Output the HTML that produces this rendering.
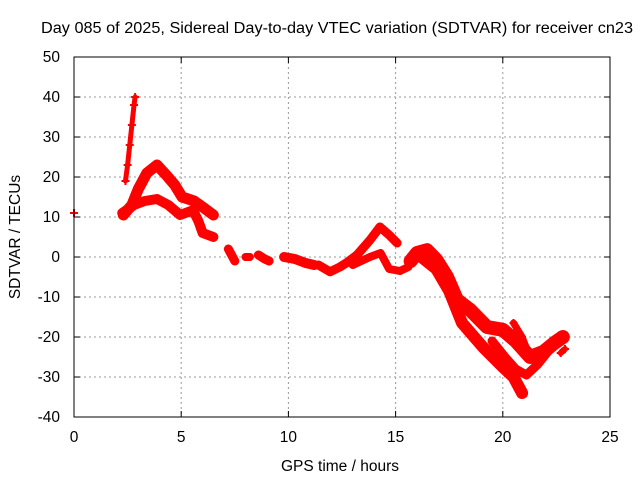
<!DOCTYPE html>
<html><head><meta charset="utf-8"><style>
body{margin:0;background:#fff}
svg{display:block;font-family:"Liberation Sans",sans-serif;font-size:15.5px}
</style></head><body>
<svg id="c" width="640" height="480" xmlns="http://www.w3.org/2000/svg">
<text x="337" y="33" text-anchor="middle" textLength="592" lengthAdjust="spacingAndGlyphs">Day 085 of 2025, Sidereal Day-to-day VTEC variation (SDTVAR) for receiver cn23</text>
<text x="340" y="471" text-anchor="middle">GPS time / hours</text>
<text transform="translate(20,237) rotate(-90)" text-anchor="middle">SDTVAR / TECUs</text>
<g id="grid"></g><g id="marks"></g>
<rect x="74" y="57" width="536" height="360" fill="none" stroke="#000" stroke-width="1"/>
</svg>
<script>
const xTicks=[0,5,10,15,20,25];
const yTicks=[50,40,30,20,10,0,-10,-20,-30,-40];
const track0=[[0,11]];
const track1=[[2.4,19],[2.5,23],[2.6,28],[2.7,33],[2.8,38],[2.85,40]];
const track2=[[2.3,10.5],[2.7,13],[3.0,17],[3.4,21],[3.87,23],[4.3,20.5],[4.7,18],[5.04,15],[5.6,14],[6.0,12.5],[6.5,10.5]];
const track3=[[2.25,11],[2.8,13],[3.3,14],[3.87,14.5],[4.4,13],[4.95,10.5],[5.55,11.7],[5.8,9],[6.0,6],[6.5,5]];
const track4=[[7.2,2],[7.4,0],[7.5,-1]];
const track5=[[8.0,0],[8.2,0]];
const track6=[[8.6,0.5],[8.9,-0.5],[9.1,-1]];
const track7=[[9.8,0],[10.3,-0.5],[10.8,-1.5],[11.2,-2]];
const track8=[[11.4,-2],[11.94,-3.7],[12.4,-2.5],[12.7,-1.5],[13.2,0.5],[13.8,4.2],[14.27,7.5],[14.7,5.5],[15.07,3.5]];
const track9=[[13.0,-2],[13.8,0],[14.3,1],[14.7,-3],[15.2,-3.5],[15.6,-2.5]];
const track10=[[15.7,-1],[16.0,1],[16.46,1.7],[16.9,-0.7],[17.4,-5],[17.86,-10.7],[18.47,-13.2],[19.26,-17.5],[20.0,-18.2],[20.6,-21],[21.27,-25],[21.9,-23.7],[22.4,-21.5],[22.8,-20]];
const track11=[[16.2,0],[16.9,-3],[17.5,-8.5],[18.1,-16.5],[19.07,-22.5],[20.0,-27.5],[20.5,-30],[20.9,-34]];
const track12=[[19.5,-21],[20.1,-25],[20.6,-28],[21.1,-29.5],[21.6,-27],[22.2,-23],[22.8,-19.5]];
const track13=[[20.5,-16.5],[20.9,-20],[21.27,-25]];
const track14=[[22.7,-24],[22.9,-23]];
const tracks=[track0,track1,track2,track3,track4,track5,track6,track7,track8,track9,track10,track11,track12,track13,track14];
const strokeW=[0,5,11,10,9,8,9,10,9,8,14,12,9,7,6];
const NS="http://www.w3.org/2000/svg";
const X=v=>74+v*536/25, Y=v=>257-v*4;
const grid=document.getElementById('grid'), marks=document.getElementById('marks');
function mk(tag,at,parent){const e=document.createElementNS(NS,tag);for(const k in at)e.setAttribute(k,at[k]);parent.appendChild(e);return e;}
xTicks.forEach(t=>{
  if(t>0&&t<25){const l=mk('line',{x1:X(t),x2:X(t),y1:57,y2:417,stroke:'#999','stroke-dasharray':'2,3'},grid);
  
  }
  mk('line',{x1:X(t),x2:X(t),y1:417,y2:411,stroke:'#000'},grid);
  mk('line',{x1:X(t),x2:X(t),y1:57,y2:63,stroke:'#000'},grid);
  const tx=mk('text',{x:X(t),y:442,'text-anchor':'middle'},grid);tx.textContent=t;
  
  
});
yTicks.forEach(t=>{
  if(t<50&&t>-40){const l=mk('line',{x1:74,x2:610,y1:Y(t),y2:Y(t),stroke:'#999','stroke-dasharray':'2,3'},grid);
  
  }
  mk('line',{x1:74,x2:80,y1:Y(t),y2:Y(t),stroke:'#000'},grid);
  mk('line',{x1:604,x2:610,y1:Y(t),y2:Y(t),stroke:'#000'},grid);
  const tx=mk('text',{x:60,y:Y(t)+5,'text-anchor':'end'},grid);tx.textContent=t;
  
  
});
tracks.forEach((tr,i)=>{
  const g=mk('g',{},marks);
  
  
  if(tr.length>1){
    mk('polyline',{points:tr.map(p=>X(p[0])+','+Y(p[1])).join(' '),fill:'none',stroke:'#f00','stroke-width':strokeW[i],'stroke-linejoin':'round','stroke-linecap':'round'},g);
  }
  tr.forEach(p=>{
    const x=X(p[0]),y=Y(p[1]);
    const m=mk('path',{d:`M${x-4},${y}H${x+4}M${x},${y-4}V${y+4}`,stroke:'#f00','stroke-width':2},g);
    
    
  });
});
</script>
</body></html>
